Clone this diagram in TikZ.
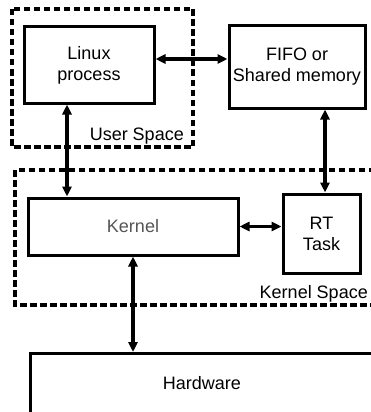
\documentclass[tikz,border=0pt]{standalone}
\usepackage{fontspec}
\setmainfont{Liberation Sans}
\usetikzlibrary{arrows.meta,calc}
\definecolor{kerngray}{HTML}{555555}
\begin{document}
\begin{tikzpicture}[x=1pt,y=-1pt,
  box/.style={draw,line width=3pt,rectangle,inner sep=0pt,align=center,
    font=\fontsize{18}{21}\selectfont},
  region/.style={draw,line width=3.2pt,dash pattern=on 6.5pt off 3.5pt},
  label/.style={font=\fontsize{18}{21}\selectfont,inner sep=0pt},
  link/.style={line width=3.3pt,{Triangle[length=10pt,width=9pt]}-{Triangle[length=10pt,width=9pt]}}]
  \useasboundingbox (0,0) rectangle (371,412);
  \clip (0,0) rectangle (371,412);

  % protection domains
  \draw[region] (12,9) rectangle (193,147);
  \node[label,anchor=base east] (usl) at (184,140) {User Space};
  \draw[region] (15,170) rectangle (395,305);
  \node[label,anchor=base east] (ksl) at (368,298) {Kernel Space};

  % components
  \node[box,minimum width=130pt,minimum height=76pt] (lin) at (89,65) {Linux\\process};
  \node[box,minimum width=136pt,minimum height=82pt] (fifo) at (297,67) {FIFO or\\Shared memory};
  \node[box,minimum width=210pt,minimum height=57pt,text=kerngray] (kern) at (133,226.5) {Kernel};
  \node[box,minimum width=77pt,minimum height=79pt] (rt) at (321.5,233.5) {RT\\Task};
  \node[box,minimum width=380pt,minimum height=120pt,anchor=north west] (hw) at (29,352) {};
  \node[label] (hwl) at (202,383) {Hardware};

  % communication paths
  \coordinate (c1) at (67,0);
  \coordinate (c2) at (325,0);
  \draw[link] ([yshift=6pt]lin.east) -- ([yshift=6pt]lin.east -| fifo.west);
  \draw[link] (lin.south -| c1) -- (kern.north -| c1);
  \draw[link] (kern.east) -- (kern.east -| rt.west);
  \draw[link] (fifo.south -| c2) -- (rt.north -| c2);
  \draw[link] (kern.south) -- (kern.south |- hw.north);
\end{tikzpicture}
\end{document}
